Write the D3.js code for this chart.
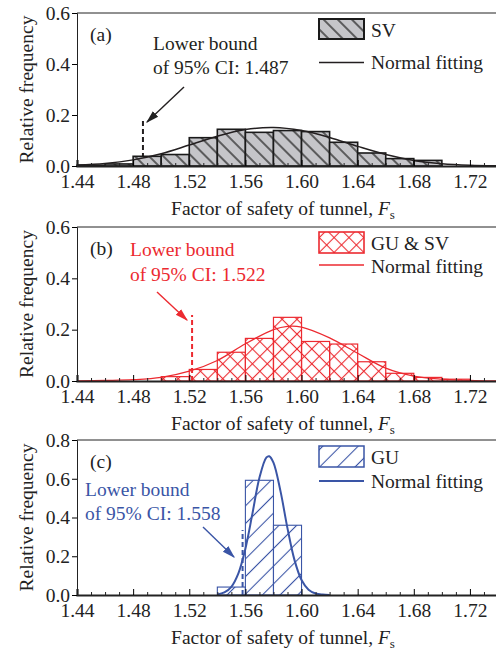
<!DOCTYPE html>
<html>
<head>
<meta charset="utf-8">
<script src="https://cdn.jsdelivr.net/npm/d3@7"></script>
<style>
  body { margin: 0; background: #fff; }
  svg { display: block; }
  text { font-family: "Liberation Serif", "Times New Roman", serif; font-size: 19.5px; }
</style>
</head>
<body>
<div id="chart"></div>
<script>
// tick labels on the x axis
const xTicks = [1.44, 1.48, 1.52, 1.56, 1.60, 1.64, 1.68, 1.72];
const binW = 0.02;

// (a) SV histogram + normal fit
const svBins = [1.44, 1.46, 1.48, 1.50, 1.52, 1.54, 1.56, 1.58, 1.60, 1.62, 1.64, 1.66, 1.68];
const svFreq = [0.003, 0.008, 0.038, 0.045, 0.111, 0.144, 0.132, 0.139, 0.135, 0.093, 0.051, 0.029, 0.022];
const svFitX = [1.44, 1.46, 1.48, 1.50, 1.52, 1.54, 1.56, 1.58, 1.60, 1.62, 1.64, 1.66, 1.68, 1.70, 1.72, 1.74];
const svFitY = [0.004, 0.010, 0.024, 0.048, 0.082, 0.117, 0.143, 0.151, 0.139, 0.112, 0.077, 0.045, 0.022, 0.009, 0.003, 0.001];

// (b) GU & SV histogram + normal fit
const gsBins = [1.50, 1.52, 1.54, 1.56, 1.58, 1.60, 1.62, 1.64, 1.66, 1.68, 1.70];
const gsFreq = [0.017, 0.045, 0.112, 0.166, 0.248, 0.154, 0.144, 0.075, 0.030, 0.014, 0.007];
const gsFitX = [1.44, 1.46, 1.48, 1.50, 1.52, 1.54, 1.56, 1.58, 1.59, 1.60, 1.62, 1.64, 1.66, 1.68, 1.70, 1.72, 1.74];
const gsFitY = [0.000, 0.002, 0.005, 0.014, 0.038, 0.080, 0.145, 0.200, 0.213, 0.210, 0.168, 0.108, 0.050, 0.019, 0.007, 0.002, 0.000];

// (c) GU histogram + normal fit
const guBins = [1.54, 1.56, 1.58];
const guFreq = [0.041, 0.592, 0.360];
const guFitX = [1.54, 1.545, 1.55, 1.555, 1.56, 1.565, 1.57, 1.575, 1.577, 1.58, 1.585, 1.59, 1.595, 1.60, 1.605, 1.61, 1.615, 1.62];
const guFitY = [0.003, 0.013, 0.042, 0.111, 0.239, 0.420, 0.605, 0.710, 0.716, 0.683, 0.536, 0.344, 0.180, 0.077, 0.027, 0.008, 0.002, 0.000];

const W = 496, H = 650;
const left = 77, right = 498;

const svg = d3.select("#chart")
              .append("svg")
              .attr("width", W)
              .attr("height", H);

const x = d3.scaleLinear().domain([1.44, 1.74]).range([left, right]);

const defs = svg.append("defs");

// hatch patterns
function hatch(id, angles, size, bg, stroke, sw) {
  const p = defs.append("pattern")
                .attr("id", id)
                .attr("patternUnits", "userSpaceOnUse")
                .attr("width", size)
                .attr("height", size)
                .attr("patternTransform", "rotate(" + angles[0] + ")");
  p.append("rect").attr("width", size).attr("height", size).attr("fill", bg);
  p.append("line").attr("x1", size / 2).attr("x2", size / 2).attr("y1", 0).attr("y2", size)
   .attr("stroke", stroke).attr("stroke-width", sw);
  if (angles.length > 1) {
    p.append("line").attr("x1", 0).attr("x2", size).attr("y1", size / 2).attr("y2", size / 2)
     .attr("stroke", stroke).attr("stroke-width", sw);
  }
}
hatch("hatchSV", [-45], 10, "#c5c5c9", "#222", 1.3);
hatch("hatchGS", [45, 1], 10.5, "none", "#ec2a30", 1.1);
hatch("hatchGU", [45], 12.5, "none", "#3a55a6", 1.1);

// arrow heads
function arrowHead(id, color) {
  defs.append("marker")
      .attr("id", id)
      .attr("viewBox", "0 0 10 10")
      .attr("refX", 9).attr("refY", 5)
      .attr("markerWidth", 13).attr("markerHeight", 13)
      .attr("markerUnits", "userSpaceOnUse")
      .attr("orient", "auto")
      .append("path")
      .attr("d", "M0,2 L10,5 L0,8 Z")
      .attr("fill", color);
}
arrowHead("arrA", "#222");
arrowHead("arrB", "#ec2a30");
arrowHead("arrC", "#3a55a6");

const panels = [
  { top: 13, bottom: 166, yMax: 0.6, yTicks: [0, 0.2, 0.4, 0.6], tag: "(a)",
    bins: svBins, freq: svFreq, fitX: svFitX, fitY: svFitY,
    color: "#231f20", fill: "url(#hatchSV)", barStroke: "#1a1a1a", barSW: 1.6, fitSW: 1.5,
    ci: 1.487, ciTop: 0.185, label: "SV",
    noteX: 153, noteY: [36.5, 60.5], arrow: [184, 87, 147, 122],
    legBox: [6, 26], legText: 23.5, legLine: 49.5, legText2: 55.5 },
  { top: 227, bottom: 381, yMax: 0.6, yTicks: [0, 0.2, 0.4, 0.6], tag: "(b)",
    bins: gsBins, freq: gsFreq, fitX: gsFitX, fitY: gsFitY,
    color: "#ec2a30", fill: "url(#hatchGS)", barStroke: "#ec2a30", barSW: 1.2, fitSW: 1.3,
    ci: 1.522, ciTop: 0.257, label: "GU & SV",
    noteX: 130, noteY: [29, 54], arrow: [157, 292, 187, 320],
    legBox: [5, 26], legText: 23, legLine: 38, legText2: 46 },
  { top: 440, bottom: 595, yMax: 0.8, yTicks: [0, 0.2, 0.4, 0.6, 0.8], tag: "(c)",
    bins: guBins, freq: guFreq, fitX: guFitX, fitY: guFitY,
    color: "#3a55a6", fill: "url(#hatchGU)", barStroke: "#3a55a6", barSW: 1.1, fitSW: 2,
    ci: 1.558, ciTop: 0.335, label: "GU",
    noteX: 85, noteY: [56, 79.5], arrow: [203, 527, 234, 557],
    legBox: [6, 27], legText: 23.5, legLine: 41, legText2: 47.5 }
];
const arrowIds = ["arrA", "arrB", "arrC"];

panels.forEach((p, i) => {
  const y = d3.scaleLinear().domain([0, p.yMax]).range([p.bottom, p.top]);
  const g = svg.append("g");

  // dashed lower bound line
  g.append("line")
   .attr("x1", x(p.ci)).attr("x2", x(p.ci))
   .attr("y1", y(0)).attr("y2", y(p.ciTop))
   .attr("stroke", p.color)
   .attr("stroke-width", 2)
   .attr("stroke-dasharray", "5,3");

  // histogram bars
  g.selectAll("rect.bar")
   .data(d3.zip(p.bins, p.freq))
   .join("rect")
   .attr("class", "bar")
   .attr("x", d => x(d[0]))
   .attr("width", d => x(d[0] + binW) - x(d[0]))
   .attr("y", d => y(d[1]))
   .attr("height", d => y(0) - y(d[1]))
   .attr("fill", p.fill)
   .attr("stroke", p.barStroke)
   .attr("stroke-width", p.barSW);

  // normal fit
  const line = d3.line()
                 .x(d => x(d[0]))
                 .y(d => y(d[1]))
                 .curve(d3.curveCatmullRom);
  g.append("path")
   .datum(d3.zip(p.fitX, p.fitY))
   .attr("d", line)
   .attr("fill", "none")
   .attr("stroke", p.color)
   .attr("stroke-width", p.fitSW);

  // top frame line
  g.append("line")
   .attr("x1", left).attr("x2", right)
   .attr("y1", p.top).attr("y2", p.top)
   .attr("stroke", "#222").attr("stroke-width", 1);

  // x axis: minor then major ticks (inward)
  const minor = d3.range(145, 174, 1).map(v => v / 100).filter(v => Math.round(v * 100) % 4 !== 0);
  g.append("g")
   .attr("transform", "translate(0," + p.bottom + ")")
   .call(d3.axisBottom(x).tickValues(minor).tickSize(-3).tickFormat(""))
   .call(a => a.select(".domain").remove())
   .selectAll("line").attr("stroke", "#222");
  const xa = g.append("g")
              .attr("transform", "translate(0," + p.bottom + ")")
              .call(d3.axisBottom(x).tickValues(xTicks).tickSize(-6).tickPadding(8).tickFormat(d3.format(".2f")));
  xa.select(".domain").attr("stroke", "#222").attr("stroke-width", 2.2);
  xa.selectAll("text").attr("font-size", null).attr("font-family", null).attr("fill", "#222");

  // y axis
  const ya = g.append("g")
              .attr("transform", "translate(" + left + ",0)")
              .call(d3.axisLeft(y).tickValues(p.yTicks).tickSize(5).tickPadding(2).tickFormat(d3.format(".1f")));
  ya.select(".domain").attr("stroke", "#222");
  ya.selectAll("text").attr("font-size", null).attr("font-family", null).attr("fill", "#222");

  // axis titles
  g.append("text")
   .attr("transform", "translate(33," + (p.top + p.bottom) / 2 + ") rotate(-90)")
   .attr("text-anchor", "middle")
   .attr("fill", "#222")
   .text("Relative frequency");
  const xt = g.append("text")
              .attr("x", 283).attr("y", p.bottom + 49)
              .attr("text-anchor", "middle")
              .attr("fill", "#222");
  xt.append("tspan").text("Factor of safety of tunnel, ");
  xt.append("tspan").attr("font-style", "italic").text("F");
  xt.append("tspan").attr("font-size", "13px").attr("dy", 3.5).text("s");

  // panel tag
  g.append("text").attr("x", 90).attr("y", p.top + 28).attr("fill", "#222").text(p.tag);

  // lower bound note and arrow
  g.append("text").attr("x", p.noteX).attr("y", p.top + p.noteY[0]).attr("fill", p.color).text("Lower bound");
  g.append("text").attr("x", p.noteX).attr("y", p.top + p.noteY[1]).attr("fill", p.color).text("of 95% CI: " + p.ci.toFixed(3));
  g.append("line")
   .attr("x1", p.arrow[0]).attr("y1", p.arrow[1])
   .attr("x2", p.arrow[2]).attr("y2", p.arrow[3])
   .attr("stroke", p.color).attr("stroke-width", 1.4)
   .attr("marker-end", "url(#" + arrowIds[i] + ")");

  // legend
  g.append("rect")
   .attr("x", 319).attr("y", p.top + p.legBox[0])
   .attr("width", 45).attr("height", p.legBox[1] - p.legBox[0])
   .attr("fill", p.fill).attr("stroke", p.barStroke).attr("stroke-width", p.barSW + 0.4);
  g.append("text").attr("x", 371).attr("y", p.top + p.legText).attr("fill", "#222").text(p.label);
  g.append("line")
   .attr("x1", 319).attr("x2", 364)
   .attr("y1", p.top + p.legLine).attr("y2", p.top + p.legLine)
   .attr("stroke", p.color).attr("stroke-width", p.fitSW);
  g.append("text").attr("x", 371).attr("y", p.top + p.legText2).attr("fill", "#222").text("Normal fitting");
});
</script>
</body>
</html>
